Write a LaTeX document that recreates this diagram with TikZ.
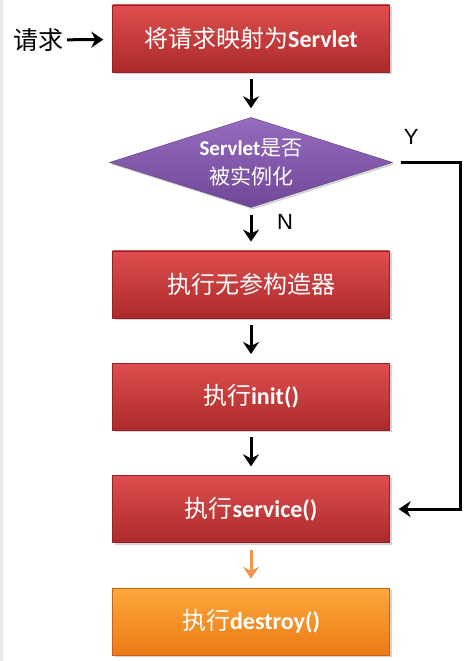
\documentclass[tikz,border=0pt]{standalone}
\usepackage{fontspec}
\setmainfont{Carlito}
\newfontfamily\cjk{Noto Sans CJK SC}
\newfontfamily\arialfont{Liberation Sans}
\usepackage{tikz}
\usetikzlibrary{shapes.geometric,arrows.meta,positioning,shadows}

\definecolor{redtop}{RGB}{222,78,78}
\definecolor{redbot}{RGB}{172,42,42}
\definecolor{redline}{RGB}{150,35,35}
\definecolor{purptop}{RGB}{150,108,190}
\definecolor{purpbot}{RGB}{112,72,152}
\definecolor{purpline}{RGB}{95,60,130}
\definecolor{orgtop}{RGB}{252,168,60}
\definecolor{orgbot}{RGB}{236,122,22}
\definecolor{orgline}{RGB}{200,100,20}
\definecolor{orgarrow}{RGB}{240,150,80}
\definecolor{edgegray}{RGB}{235,235,235}

\newcommand{\zh}[1]{{\cjk\mdseries #1}}

\begin{document}
\begin{tikzpicture}[node distance=45pt,
    stepbox/.style={rectangle, draw=redline, thin, minimum width=277pt, minimum height=67pt, inner sep=0pt,
        top color=redtop, bottom color=redbot, text=white, font=\fontsize{24}{28}\selectfont\bfseries,
        drop shadow={opacity=0.35, shadow xshift=2pt, shadow yshift=-2pt}},
    endbox/.style={stepbox, draw=orgline, top color=orgtop, bottom color=orgbot},
    decision/.style={diamond, draw=purpline, thin, minimum width=283pt, minimum height=90pt, inner sep=0pt, aspect=3.1,
        top color=purptop, bottom color=purpbot, text=white, align=center, font=\fontsize{21}{29}\selectfont\bfseries,
        drop shadow={opacity=0.35, shadow xshift=2pt, shadow yshift=-2pt}},
    lbl/.style={inner sep=0pt, font=\arialfont\fontsize{22}{24}\selectfont},
    flow/.style={-{Stealth[length=12pt,width=16pt,inset=4pt]}, line width=3pt, shorten <=7pt, shorten >=9pt}]

    \useasboundingbox (0,0) rectangle (474pt,-661pt);
    \fill[edgegray] (0,0) rectangle (3pt,-661pt);

    % Steps
    \node[stepbox] (map) at (251pt,-38.5pt) {\zh{将请求映射为}Servlet};
    \node[decision, below=45pt of map] (check) {Servlet\zh{是否}\\\zh{被实例化}};
    \node[stepbox, below=43pt of check] (ctor) {\zh{执行无参构造器}};
    \node[stepbox, below=of ctor] (init) {\zh{执行}init()};
    \node[stepbox, below=of init] (service) {\zh{执行}service()};
    \node[endbox, below=of service] (destroy) {\zh{执行}destroy()};

    % Labels
    \node[inner sep=0pt, font=\fontsize{25}{28}\selectfont] (req) at (38pt,-40pt) {\zh{请求}};
    \node[lbl, above right=18pt and 11pt of check.east] (yes) {Y};
    \node[lbl, below right=7pt and 26pt of check.south] (no) {N};

    % Connections
    \draw[flow, shorten <=4pt] (req) -- (map);
    \draw[flow] (map) -- (check);
    \draw[flow] (check) -- (ctor);
    \draw[flow] (ctor) -- (init);
    \draw[flow] (init) -- (service);
    \draw[flow, shorten <=8pt] (check.east) -- ++(68pt,0) |- (service.east);
    \draw[flow, orgarrow] (service) -- (destroy);

\end{tikzpicture}
\end{document}
